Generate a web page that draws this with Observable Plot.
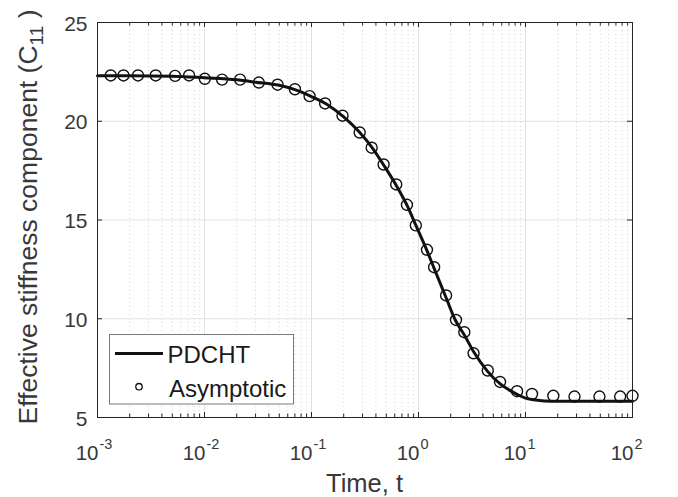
<!DOCTYPE html>
<html><head><meta charset="utf-8">
<script src="https://cdn.jsdelivr.net/npm/d3@7"></script>
<script src="https://cdn.jsdelivr.net/npm/@observablehq/plot@0.6"></script>
<style>body{margin:0;background:#fff} #chart{position:relative;width:678px;height:497px}</style>
</head><body><div id="chart"></div>
<script>
// PDCHT curve
const lineT = [0.001,0.002,0.005,0.01,0.02,0.03,0.05,0.07,0.1,0.14,0.2,0.28,0.37,0.47,0.62,0.78,0.95,1.2,1.4,1.8,2.2,2.7,3.3,4.4,5.8,7,8.5,10,12,15,20,30,50,100];
const lineC = [22.3,22.3,22.28,22.2,22.1,21.98,21.82,21.6,21.25,20.85,20.22,19.45,18.65,17.8,16.75,15.75,14.7,13.45,12.55,11.1,9.95,9.15,8.3,7.35,6.7,6.4,6.15,5.98,5.9,5.84,5.82,5.82,5.82,5.82];
// Asymptotic points
const circleT = [0.00133,0.00175,0.00239,0.0035,0.00531,0.00718,0.01007,0.0146,0.0215,0.0322,0.0482,0.070,0.096,0.134,0.195,0.282,0.365,0.472,0.619,0.780,0.944,1.20,1.40,1.81,2.24,2.68,3.27,4.44,5.78,8.34,11.5,18.2,28.7,49.1,76.7,100];
const circleC = [22.32,22.32,22.32,22.32,22.30,22.32,22.15,22.11,22.11,21.96,21.85,21.62,21.27,20.90,20.28,19.43,18.66,17.81,16.80,15.77,14.73,13.49,12.61,11.18,9.94,9.32,8.25,7.38,6.80,6.33,6.19,6.10,6.06,6.06,6.06,6.10];
const xTickExponents = [-3,-2,-1,0,1,2];
const yTicks = [5,10,15,20,25];
const yGrid = [10,15,20];
const seriesNames = ["PDCHT","Asymptotic"];
const xLabel = "Time, t";
const yLabelMain = "Effective stiffness component (C";
const yLabelSub = "11";
const yLabelEnd = " )";

const lineData = lineT.map((t,i)=>({t, c: lineC[i]}));
const circleData = circleT.map((t,i)=>({t, c: circleC[i]}));

const W=678,H=497,mL=97,mR=46,mT=22,mB=80;
const frameH=H-mT-mB, frameW=W-mL-mR;
const majorX = xTickExponents.map(e=>Math.pow(10,e));
const minorX = d3.scaleLog().domain([1e-3,1e2]).ticks().filter(v=>!majorX.some(m=>Math.abs(m-v)/m<1e-6));
const ink="#262626", txt="#383838";
const font="'Liberation Sans', Arial, Helvetica, sans-serif";

const svg = Plot.plot({
  width:W,height:H,marginLeft:mL,marginRight:mR,marginTop:mT,marginBottom:mB,
  style:{fontFamily:font,background:"#fff",color:ink,overflow:"visible"},
  x:{type:"log",domain:[1e-3,1e2],axis:null},
  y:{domain:[5,25],axis:null},
  marks:[
    Plot.ruleX(minorX,{stroke:"#d2d2d2",strokeWidth:1,strokeDasharray:"1,3"}),
    Plot.ruleX(majorX.slice(1,-1),{stroke:"#e2e2e2"}),
    Plot.ruleY(yGrid,{stroke:"#e2e2e2"}),
    Plot.ruleX(majorX,{stroke:ink,insetTop:frameH-5}),
    Plot.ruleX(majorX,{stroke:ink,insetBottom:frameH-5}),
    Plot.ruleX(minorX,{stroke:ink,insetTop:frameH-3.5}),
    Plot.ruleX(minorX,{stroke:ink,insetBottom:frameH-3.5}),
    Plot.ruleY(yTicks,{stroke:ink,insetRight:frameW-5}),
    Plot.ruleY(yTicks,{stroke:ink,insetLeft:frameW-5}),
    Plot.line(lineData,{x:"t",y:"c",stroke:"#111",strokeWidth:3,curve:"monotone-x"}),
    Plot.dot(circleData,{x:"t",y:"c",r:5.5,stroke:"#111",strokeWidth:1.4,fill:"none"}),
    Plot.frame({stroke:ink}),
    Plot.text(majorX,{x:d=>d,frameAnchor:"bottom",text:()=>"10",textAnchor:"end",dx:1,dy:42,lineAnchor:"bottom",fontSize:20.5,fill:txt}),
    Plot.text(majorX,{x:d=>d,frameAnchor:"bottom",text:d=>String(Math.round(Math.log10(d))),textAnchor:"start",dx:2,dy:31,lineAnchor:"bottom",fontSize:14.5,fill:txt}),
    Plot.text(yTicks,{y:d=>d,frameAnchor:"left",text:d=>String(d),textAnchor:"end",dx:-10,dy:1.5,fontSize:21,fill:txt})
  ]
});
document.getElementById("chart").appendChild(svg);

const s = d3.select(svg);
// axis labels
s.append("text").attr("x",364.5).attr("y",491.5).attr("text-anchor","middle")
  .attr("font-family",font).attr("font-size",25.5).attr("fill",txt).text(xLabel);
const yl = s.append("text").attr("transform","translate(37,217) rotate(-90)").attr("text-anchor","middle")
  .attr("font-family",font).attr("font-size",26.5).attr("fill",txt);
yl.append("tspan").text(yLabelMain);
yl.append("tspan").attr("font-size",19).attr("dy",6).text(yLabelSub);
yl.append("tspan").attr("dy",-6).text(yLabelEnd);

// legend
const lg = s.append("g").attr("text-anchor","start");
lg.append("rect").attr("x",109.5).attr("y",334.5).attr("width",184).attr("height",69.5)
  .attr("fill","#fff").attr("stroke","#7a7a7a").attr("stroke-width",1);
lg.append("line").attr("x1",115).attr("x2",163).attr("y1",353.5).attr("y2",353.5).attr("stroke","#111").attr("stroke-width",3);
lg.append("text").attr("x",167.5).attr("y",362.5).attr("text-anchor","start").attr("font-family",font).attr("font-size",24).attr("fill","#1a1a1a").text(seriesNames[0]);
lg.append("circle").attr("cx",139).attr("cy",386.7).attr("r",3.2).attr("fill","none").attr("stroke","#111").attr("stroke-width",1.3);
lg.append("text").attr("x",169).attr("y",396.5).attr("text-anchor","start").attr("font-family",font).attr("font-size",24).attr("fill","#1a1a1a").text(seriesNames[1]);
</script>
</body></html>
